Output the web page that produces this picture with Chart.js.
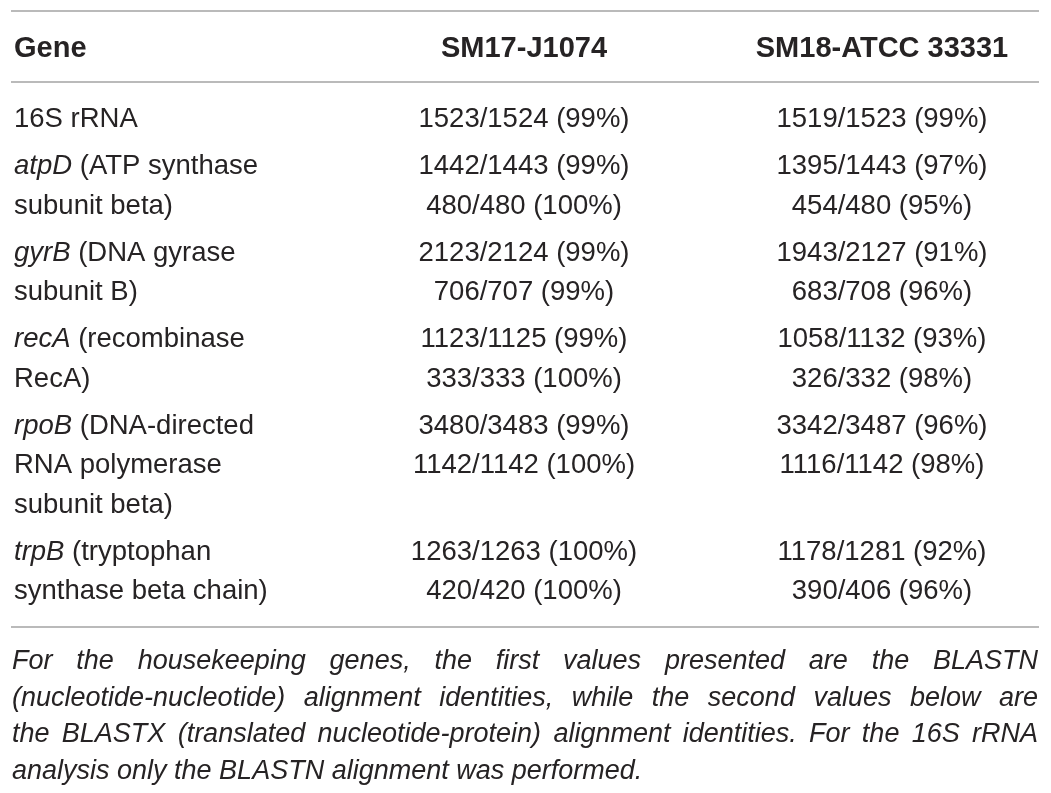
<!DOCTYPE html>
<html>
<head>
<meta charset="utf-8">
<script src="https://cdn.jsdelivr.net/npm/chart.js@4.4.1/dist/chart.umd.min.js"></script>
<style>
    html, body { margin: 0; padding: 0; background: #ffffff; }
    #wrap { width: 1051px; height: 793px; }
</style>
</head>
<body>
<div id="wrap"><canvas id="table1" width="1051" height="793"></canvas></div>
<script>
// column headers
var headers = ["Gene", "SM17-J1074", "SM18-ATCC 33331"];

// gene name (italic) and the wrapped description lines of the first column
var geneNames = ["", "atpD", "gyrB", "recA", "rpoB", "trpB"];
var geneLines = [
    ["16S rRNA"],
    [" (ATP synthase", "subunit beta)"],
    [" (DNA gyrase", "subunit B)"],
    [" (recombinase", "RecA)"],
    [" (DNA-directed", "RNA polymerase", "subunit beta)"],
    [" (tryptophan", "synthase beta chain)"]
];

// BLASTN identities (matches / length, percent)
var sm17NtMatch = [1523, 1442, 2123, 1123, 3480, 1263];
var sm17NtLen = [1524, 1443, 2124, 1125, 3483, 1263];
var sm17NtPct = [99, 99, 99, 99, 99, 100];
var sm18NtMatch = [1519, 1395, 1943, 1058, 3342, 1178];
var sm18NtLen = [1523, 1443, 2127, 1132, 3487, 1281];
var sm18NtPct = [99, 97, 91, 93, 96, 92];

// BLASTX identities (none for 16S rRNA)
var sm17AaMatch = [null, 480, 706, 333, 1142, 420];
var sm17AaLen = [null, 480, 707, 333, 1142, 420];
var sm17AaPct = [null, 100, 99, 100, 100, 100];
var sm18AaMatch = [null, 454, 683, 326, 1116, 390];
var sm18AaLen = [null, 480, 708, 332, 1142, 406];
var sm18AaPct = [null, 95, 96, 98, 98, 96];

// footnote, as broken into lines in the original
var footLines = [
    "For the housekeeping genes, the first values presented are the BLASTN",
    "(nucleotide-nucleotide) alignment identities, while the second values below are",
    "the BLASTX (translated nucleotide-protein) alignment identities. For the 16S rRNA",
    "analysis only the BLASTN alignment was performed."
];

function cellText(match, len, pct) {
    if (match === null) return "";
    return match + "/" + len + " (" + pct + "%)";
}

var FAMILY = '"Liberation Sans", Arial, Helvetica, sans-serif';
var INK = "#262324";

var tablePlugin = {
    id: "tablePlugin",
    afterDraw: function (chart) {
        var ctx = chart.ctx;
        var xs = chart.scales.x, ys = chart.scales.y;
        var X = function (v) { return xs.getPixelForValue(v); };
        var Y = function (v) { return ys.getPixelForValue(v); };

        var colLeft = 14, col1 = 524, col2 = 882;
        var ruleL = 11, ruleR = 1039;
        var lineH = 39.5, rowGap = 7.5, firstBase = 127;
        var bodyFont = "27.5px " + FAMILY;

        ctx.save();
        // rules
        ctx.strokeStyle = "#a3a3a3";
        ctx.lineWidth = 1.5;
        [11, 82, 627].forEach(function (yy) {
            ctx.beginPath();
            ctx.moveTo(X(ruleL), Y(yy));
            ctx.lineTo(X(ruleR), Y(yy));
            ctx.stroke();
        });

        // header
        ctx.fillStyle = INK;
        ctx.textBaseline = "alphabetic";
        ctx.font = "bold 29px " + FAMILY;
        ctx.textAlign = "left";
        ctx.fillText(headers[0], X(colLeft), Y(57));
        ctx.textAlign = "center";
        ctx.fillText(headers[1], X(col1), Y(57));
        ctx.fillText(headers[2], X(col2), Y(57));

        // body rows
        var lineIdx = 0;
        geneLines.forEach(function (lines, r) {
            var base = function (k) { return firstBase + (lineIdx + k) * lineH + r * rowGap; };
            lines.forEach(function (txt, k) {
                var x0 = X(colLeft);
                ctx.textAlign = "left";
                if (k === 0 && geneNames[r]) {
                    ctx.font = "italic " + bodyFont;
                    ctx.fillText(geneNames[r], x0, Y(base(k)));
                    x0 += ctx.measureText(geneNames[r]).width;
                }
                ctx.font = bodyFont;
                ctx.fillText(txt, x0, Y(base(k)));
            });
            ctx.font = bodyFont;
            ctx.textAlign = "center";
            ctx.fillText(cellText(sm17NtMatch[r], sm17NtLen[r], sm17NtPct[r]), X(col1), Y(base(0)));
            ctx.fillText(cellText(sm18NtMatch[r], sm18NtLen[r], sm18NtPct[r]), X(col2), Y(base(0)));
            ctx.fillText(cellText(sm17AaMatch[r], sm17AaLen[r], sm17AaPct[r]), X(col1), Y(base(1)));
            ctx.fillText(cellText(sm18AaMatch[r], sm18AaLen[r], sm18AaPct[r]), X(col2), Y(base(1)));
            lineIdx += lines.length;
        });

        // footnote, justified
        ctx.font = "italic 27px " + FAMILY;
        ctx.textAlign = "left";
        var fl = X(12), fr = X(1038);
        footLines.forEach(function (txt, i) {
            var yb = Y(669 + i * 36.5);
            if (i === footLines.length - 1) {
                ctx.fillText(txt, fl, yb);
                return;
            }
            var words = txt.split(" ");
            var wsum = 0;
            words.forEach(function (w) { wsum += ctx.measureText(w).width; });
            var gap = (fr - fl - wsum) / (words.length - 1);
            var x = fl;
            words.forEach(function (w) {
                ctx.fillText(w, x, yb);
                x += ctx.measureText(w).width + gap;
            });
        });
        ctx.restore();
    }
};

var ctxTable = document.getElementById("table1").getContext("2d");
var table1 = new Chart(ctxTable, {
    type: "scatter",
    data: { datasets: [] },
    options: {
        responsive: false,
        animation: false,
        events: [],
        layout: { padding: 0 },
        plugins: {
            legend: { display: false },
            title: { display: false },
            tooltip: { enabled: false }
        },
        scales: {
            x: { type: "linear", min: 0, max: 1051, display: false },
            y: { type: "linear", min: 0, max: 793, reverse: true, display: false }
        }
    },
    plugins: [tablePlugin]
});
</script>
</body>
</html>
